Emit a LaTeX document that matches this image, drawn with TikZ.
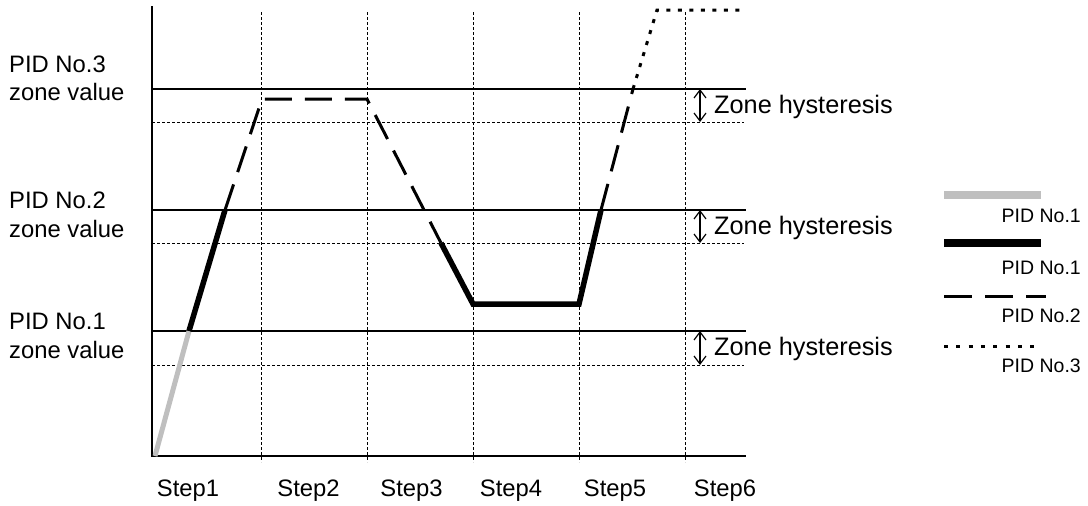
\documentclass[tikz,border=0pt]{standalone}
\usepackage{fontspec}
\setmainfont{Liberation Sans}
\usetikzlibrary{arrows.meta}
\begin{document}
\begin{tikzpicture}[x=1pt,y=-1pt,
  lbl/.style={font=\fontsize{23.8}{26}\selectfont, inner sep=0pt},
  hlbl/.style={font=\fontsize{25.3}{28}\selectfont, inner sep=0pt, anchor=west},
  leg/.style={font=\fontsize{19.5}{22}\selectfont, inner sep=0pt, anchor=east},
  axisline/.style={line width=1.6pt},
  zoneline/.style={line width=1.3pt},
  hystline/.style={line width=1pt, dash pattern=on 3pt off 2pt},
  gridline/.style={line width=1pt, dash pattern=on 3pt off 2pt},
  pidonegray/.style={line width=5pt, gray!50},
  pidonebold/.style={line width=5.5pt},
  pidtwo/.style={line width=3pt, dash pattern=on 27pt off 13pt},
  pidthree/.style={line width=3pt, dash pattern=on 4pt off 7.5pt},
  harrow/.style={line width=1.2pt, {Straight Barb[length=8pt,width=12pt]}-{Straight Barb[length=8pt,width=12pt]}},
]
\useasboundingbox (0,0) rectangle (1088,506);

% grid (vertical dotted)
\foreach \x [count=\i] in {261,367,473,579,685}{
  \coordinate (gt\i) at (\x,12);
  \coordinate (gb\i) at (\x,462);
  \draw[gridline] (gt\i) -- (gb\i);
}

% zone lines
\foreach \n/\yz/\yh in {1/331/365, 2/210/243, 3/89/122}{
  \coordinate (zl\n) at (152,\yz); \coordinate (zr\n) at (746,\yz);
  \coordinate (hl\n) at (152,\yh); \coordinate (hr\n) at (744,\yh);
  \draw[zoneline] (zl\n) -- (zr\n);
  \draw[hystline] (hl\n) -- (hr\n);
  \coordinate (at\n) at (700,\yz);
  \coordinate (ab\n) at (700,\yh);
  \draw[harrow] (at\n) -- (ab\n);
  \node[hlbl] (hy\n) at (714,{(\yz+\yh)/2+1}) {Zone hysteresis};
}

% axes
\coordinate (ytop) at (152,6);
\coordinate (orig) at (152,456);
\coordinate (xend) at (746,456);
\draw[axisline] (ytop) -- (orig) -- (xend);

% process curve
\coordinate (p0) at (155,456);
\coordinate (p1) at (189,331);
\coordinate (p2) at (225,210);
\coordinate (p3) at (262,99);
\coordinate (p4) at (367,99);
\coordinate (p5) at (441,243);
\coordinate (p6) at (473,304);
\coordinate (p7) at (579,304);
\coordinate (p8) at (601,210);
\coordinate (p9) at (633,89);
\coordinate (p10) at (657,10);
\coordinate (p11) at (746,10);
\draw[pidonegray] (p0) -- (p1);
\draw[pidonebold] (p1) -- (p2);
\draw[pidtwo] (p2) -- (p3) -- (p4) -- (p5);
\draw[pidonebold, line join=miter] (p5) -- (p6) -- (p7) -- (p8);
\draw[pidtwo] (p8) -- (p9);
\draw[pidthree] (p9) -- (p10) -- (p11);

% left labels
\node[lbl, anchor=west] (l3a) at (9,64) {PID No.3};
\node[lbl, anchor=west] (l3b) at (9,92) {zone value};
\node[lbl, anchor=west] (l2a) at (9,200) {PID No.2};
\node[lbl, anchor=west] (l2b) at (9,229) {zone value};
\node[lbl, anchor=west] (l1a) at (9,321) {PID No.1};
\node[lbl, anchor=west] (l1b) at (9,350) {zone value};

% step labels
\foreach \x [count=\i] in {188,308.5,411.5,511,615,725}{
  \node[lbl] (s\i) at (\x,491) {Step\i};
}

% legend
\coordinate (lg1a) at (944,195); \coordinate (lg1b) at (1041,195);
\draw[pidonegray, line width=8pt] (lg1a) -- (lg1b);
\node[leg] (lt1) at (1081,216) {PID No.1};
\coordinate (lg2a) at (944,243); \coordinate (lg2b) at (1041,243);
\draw[pidonebold, line width=8pt] (lg2a) -- (lg2b);
\node[leg] (lt2) at (1081,268) {PID No.1};
\coordinate (lg3a) at (944,296); \coordinate (lg3b) at (1046,296);
\draw[pidtwo, dash pattern=on 28pt off 13pt] (lg3a) -- (lg3b);
\node[leg] (lt3) at (1081,316) {PID No.2};
\coordinate (lg4a) at (944,346); \coordinate (lg4b) at (1042,346);
\draw[pidthree, dash pattern=on 4pt off 8.3pt] (lg4a) -- (lg4b);
\node[leg] (lt4) at (1081,366) {PID No.3};
\end{tikzpicture}
\end{document}
